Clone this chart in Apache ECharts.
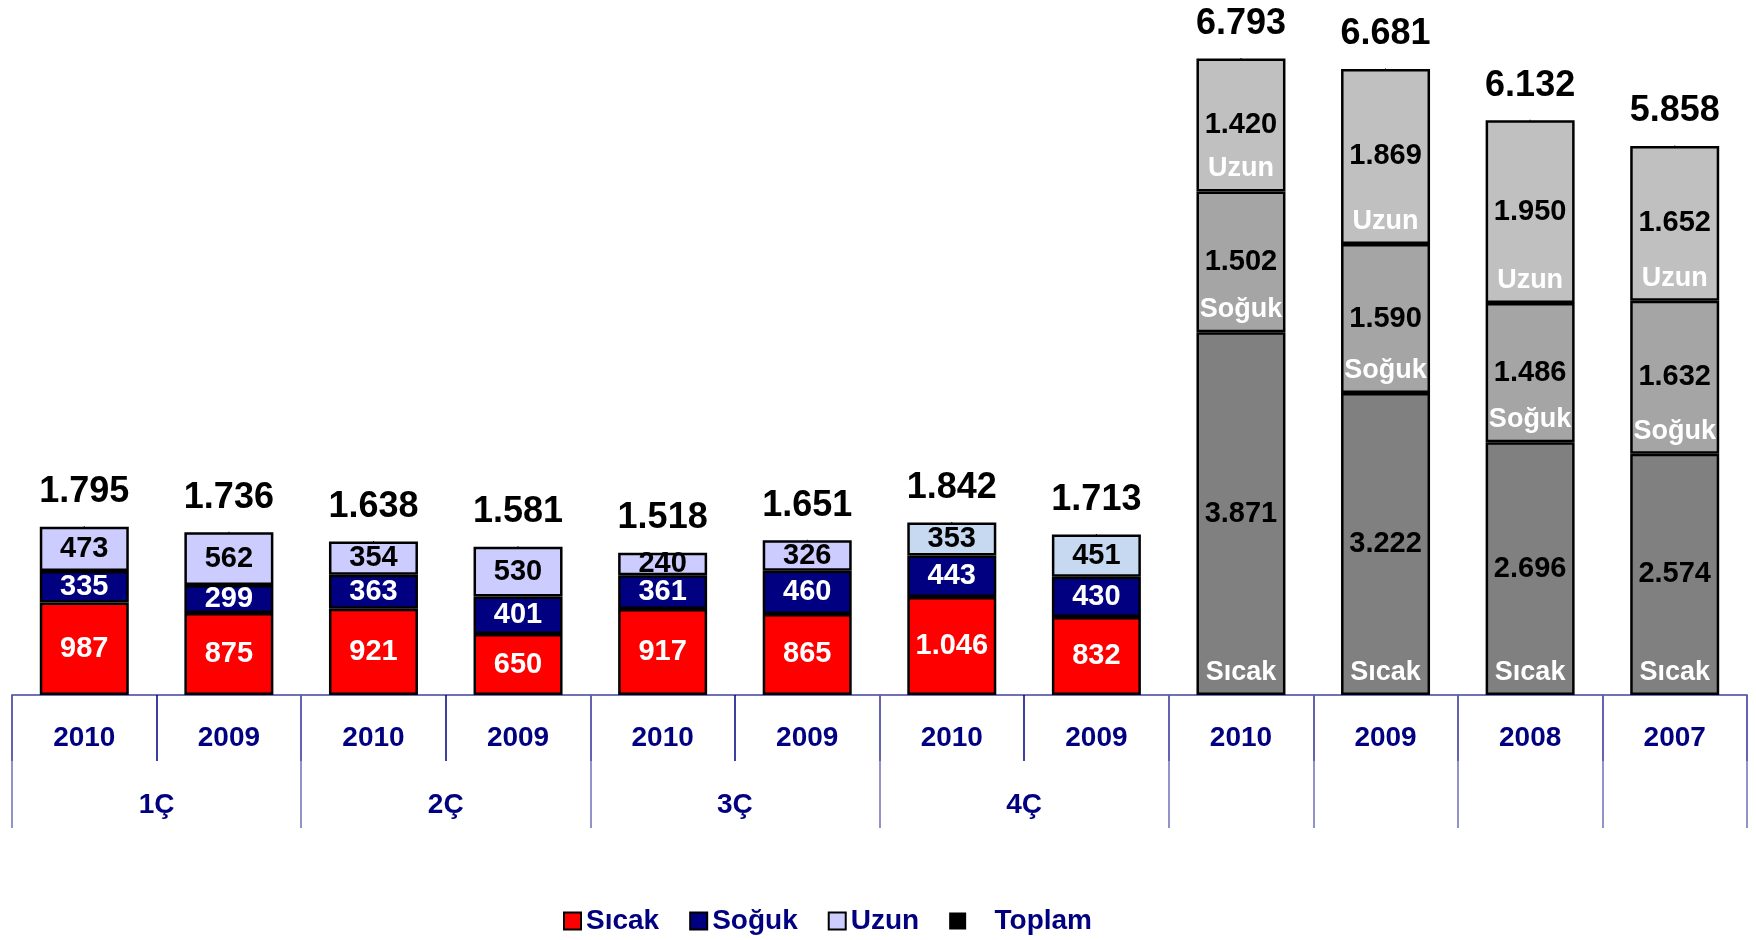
<!DOCTYPE html>
<html>
<head>
<meta charset="utf-8">
<title>Sıcak / Soğuk / Uzun</title>
<script src="https://cdn.jsdelivr.net/npm/echarts@6/dist/echarts.min.js"></script>
<style>
  html, body { margin: 0; padding: 0; background: #fff; }
  #chart { width: 1756px; height: 940px; }
</style>
</head>
<body>
<div id="chart"></div>
<script>
// eksen etiketleri
var years = ['2010', '2009', '2010', '2009', '2010', '2009', '2010', '2009', '2010', '2009', '2008', '2007'];
var quarters = ['1Ç', '2Ç', '3Ç', '4Ç'];
// seri değerleri
var sicak = [987, 875, 921, 650, 917, 865, 1046, 832, 3871, 3222, 2696, 2574];
var soguk = [335, 299, 363, 401, 361, 460, 443, 430, 1502, 1590, 1486, 1632];
var uzun = [473, 562, 354, 530, 240, 326, 353, 451, 1420, 1869, 1950, 1652];
var toplam = [1795, 1736, 1638, 1581, 1518, 1651, 1842, 1713, 6793, 6681, 6132, 5858];

var FONT = '"Liberation Sans", Arial, sans-serif';
var NAVY = '#000080';

// 1.046 gibi nokta ile binlik ayırıcı
var fmt = function (v) {
  if (v < 1000) return String(v);
  var r = String(v % 1000);
  while (r.length < 3) r = '0' + r;
  return Math.floor(v / 1000) + '.' + r;
};

var isYear = function (i) { return i >= 8; };

// ana yığın: renkler çeyrek / yıl için farklı
var buildMain = function (name, values, qColor, q4Color, yColor, qLabel) {
  return {
    name: name,
    type: 'bar',
    stack: 'main',
    barWidth: 89,
    barGap: '-100%',
    emphasis: { disabled: true },
    itemStyle: { color: qColor, borderColor: '#000', borderWidth: 2.5 },
    label: {
      show: true,
      position: 'inside',
      color: qLabel,
      fontFamily: FONT,
      fontWeight: 'bold',
      fontSize: 29,
      formatter: function (p) { return fmt(p.value); }
    },
    data: values.map(function (v, i) {
      if (isYear(i)) return { value: v, itemStyle: { color: yColor }, label: { color: '#000' } };
      if (i === 6 || i === 7) return { value: v, itemStyle: { color: q4Color } };
      return v;
    })
  };
};

// yıllık çubuklarda alt kenara yazılan beyaz seri adları
var buildNames = function (name, values) {
  return {
    name: name + ' ad',
    type: 'bar',
    stack: 'names',
    barWidth: 89,
    barGap: '-100%',
    silent: true,
    itemStyle: { color: 'transparent', borderWidth: 0 },
    label: {
      show: true,
      position: 'insideBottom',
      distance: 9,
      color: '#fff',
      fontFamily: FONT,
      fontWeight: 'bold',
      fontSize: 27,
      formatter: function (p) { return isYear(p.dataIndex) ? name : ''; }
    },
    data: values
  };
};

var myChart = echarts.init(document.getElementById('chart'));
var option = {
  animation: false,
  textStyle: { fontFamily: FONT },
  grid: { left: 12, right: 9, top: 39, bottom: 245, containLabel: false },
  legend: {
    data: ['Sıcak', 'Soğuk', 'Uzun', 'Toplam'],
    left: 558,
    top: 902,
    icon: 'rect',
    itemWidth: 17,
    itemHeight: 17,
    itemGap: 30,
    selectedMode: false,
    formatter: function (name) { return name === 'Toplam' ? '   Toplam' : name; },
    textStyle: { color: NAVY, fontSize: 28, fontWeight: 'bold', fontFamily: FONT }
  },
  xAxis: [{
    type: 'category',
    data: years,
    position: 'bottom',
    axisLine: { lineStyle: { color: '#7070b8', width: 2 } },
    axisTick: { show: true, interval: 0, length: 66, lineStyle: { color: NAVY, width: 1.5 } },
    axisLabel: {
      interval: 0,
      margin: 29,
      color: NAVY,
      fontSize: 28,
      fontWeight: 'bold',
      fontFamily: FONT
    }
  }, {
    // çeyrek grupları için ikinci eksen
    type: 'value',
    position: 'bottom',
    min: 0,
    max: 12,
    axisLine: { show: false },
    splitLine: { show: false },
    axisTick: {
      show: true,
      customValues: [0, 2, 4, 6, 8, 9, 10, 11, 12],
      length: 133,
      lineStyle: { color: '#7070b8', width: 1.5 }
    },
    axisLabel: {
      customValues: [1, 3, 5, 7],
      margin: 96,
      color: NAVY,
      fontSize: 28,
      fontWeight: 'bold',
      fontFamily: FONT,
      formatter: function (v) { return quarters[(v - 1) / 2]; }
    }
  }],
  yAxis: { type: 'value', min: 0, max: 7000, show: false },
  series: [
    buildMain('Sıcak', sicak, '#ff0000', '#ff0000', '#808080', '#fff'),
    buildMain('Soğuk', soguk, '#000080', '#000080', '#a5a5a5', '#fff'),
    buildMain('Uzun', uzun, '#ccccff', '#c6d9f0', '#c0c0c0', '#000'),
    buildNames('Sıcak', sicak),
    buildNames('Soğuk', soguk),
    buildNames('Uzun', uzun),
    {
      name: 'Toplam',
      type: 'line',
      symbol: 'rect',
      symbolSize: 1,
      silent: true,
      itemStyle: { color: '#000' },
      lineStyle: { opacity: 0, width: 0 },
      label: {
        show: true,
        position: 'top',
        distance: 16,
        color: '#000',
        fontFamily: FONT,
        fontWeight: 'bold',
        fontSize: 36,
        formatter: function (p) { return fmt(p.value); }
      },
      data: toplam
    }
  ]
};
myChart.setOption(option);
window.addEventListener('resize', function () {
  myChart.resize();
});
</script>
</body>
</html>
